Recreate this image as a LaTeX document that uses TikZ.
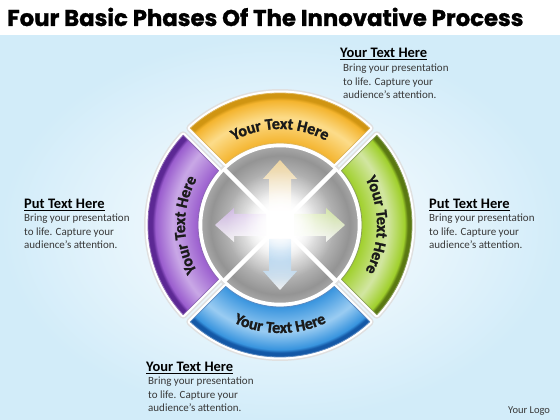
\documentclass[tikz,border=0pt]{standalone}
\usepackage{fontspec}
\setmainfont{Carlito}
\newfontfamily\titlefont{Poppins}[BoldFeatures={FakeBold=1.2}]
\newfontfamily\segfam{Carlito}[BoldFeatures={FakeBold=1.4}]
\usetikzlibrary{fadings}
\definecolor{bgblue}{HTML}{D2ECF9}
\definecolor{Ydark}{HTML}{D09512}
\definecolor{Ymain}{HTML}{F4B42E}
\definecolor{Ylight}{HTML}{FCDC8A}
\definecolor{Gdark}{HTML}{5A7812}
\definecolor{Gmain}{HTML}{A0D02C}
\definecolor{Glight}{HTML}{D2E6A2}
\definecolor{Bdark}{HTML}{1458A6}
\definecolor{Bmain}{HTML}{3894DE}
\definecolor{Blight}{HTML}{9ACCF2}
\definecolor{Pdark}{HTML}{5C2894}
\definecolor{Pmain}{HTML}{9A5DCE}
\definecolor{Plight}{HTML}{C9A8E6}
\definecolor{bodytext}{HTML}{383838}
\definecolor{segink}{HTML}{1A1A1A}
\pgfdeclareradialshading{segY}{\pgfpointorigin}{color(0bp)=(Ymain); color(15.5bp)=(Ymain); color(20.3bp)=(Ylight); color(23.6bp)=(Ymain); color(24.2bp)=(Ydark); color(25bp)=(Ydark); color(50bp)=(Ydark)}
\pgfdeclareradialshading{segG}{\pgfpointorigin}{color(0bp)=(Gmain); color(15.5bp)=(Gmain); color(20.3bp)=(Glight); color(23.6bp)=(Gmain); color(24.2bp)=(Gdark); color(25bp)=(Gdark); color(50bp)=(Gdark)}
\pgfdeclareradialshading{segB}{\pgfpointorigin}{color(0bp)=(Bmain); color(15.5bp)=(Bmain); color(20.3bp)=(Blight); color(23.6bp)=(Bmain); color(24.2bp)=(Bdark); color(25bp)=(Bdark); color(50bp)=(Bdark)}
\pgfdeclareradialshading{segP}{\pgfpointorigin}{color(0bp)=(Pmain); color(15.5bp)=(Pmain); color(20.3bp)=(Plight); color(23.6bp)=(Pmain); color(24.2bp)=(Pdark); color(25bp)=(Pdark); color(50bp)=(Pdark)}
\pgfdeclareradialshading{greydisc}{\pgfpointorigin}{color(0bp)=(white); color(6bp)=(white); color(12bp)=(black!20); color(22bp)=(black!42); color(25bp)=(black!34); color(50bp)=(black!34)}
\tikzfading[name=glowfade, inner color=transparent!0, outer color=transparent!100]
\newcommand\segtext{\segfam\bfseries\fontsize{16}{16}\selectfont}
\newcommand\segshape{(47.17:132) arc[start angle=47.17, end angle=132.83, radius=132] -- (131.5:82) arc[start angle=131.5, end angle=48.5, radius=82] -- cycle}
\newcommand\arrowshape{(-11,14) -- (-11,46) -- (-17,46) -- (0,65) -- (17,46) -- (11,46) -- (11,14) -- cycle}
\newlength\lblw
\makeatletter
\AtBeginDocument{%
  \settowidth{\lblw}{\segtext Your Text Here}%
  \xdef\lblW{\strip@pt\lblw}%
  \foreach \ch/\pre [count=\i] in {Y/Y, o/Yo, u/You, r/Your, T/Your T, e/Your Te, x/Your Tex, t/Your Text, H/Your Text H, e/Your Text He, r/Your Text Her, e/Your Text Here}{%
    \settowidth{\lblw}{\segtext \pre}\xdef\lblwp{\strip@pt\lblw}%
    \settowidth{\lblw}{\segtext \ch}\xdef\lblwc{\strip@pt\lblw}%
    \pgfmathsetmacro\lbls{\lblwp-\lblwc/2-\lblW/2}%
    \expandafter\xdef\csname lbls\i\endcsname{\lbls}%
  }}
\makeatother
% #1 centre angle, #2 baseline radius, #3 direction (1 clockwise, -1 counter-clockwise), #4 name prefix
\newcommand\arclabel[4]{%
  \foreach \ch [count=\i] in {Y,o,u,r,T,e,x,t,H,e,r,e}{%
    \pgfmathsetmacro\lblang{#1-(#3)*\csname lbls\i\endcsname/#2*180/pi}%
    \pgfmathsetmacro\lblrot{\lblang-(#3)*90}%
    \node[font=\segtext, text=segink, anchor=base, inner sep=0pt, rotate=\lblrot] (#4\i) at ([shift={(\lblang:#2)}]C) {\ch};
  }}
\tikzset{
  head/.style={anchor=base west, inner sep=0pt, font=\bfseries\fontsize{14.5}{14.5}\selectfont},
  body/.style={anchor=base west, inner sep=0pt, text=bodytext, font=\fontsize{11}{13.5}\selectfont}
}
\begin{document}
\begin{tikzpicture}[x=1pt,y=1pt]
\useasboundingbox (0,0) rectangle (560,420);
\fill[white] (0,0) rectangle (560,420);
\shade[inner color=white, outer color=bgblue] (0,0) rectangle (560,384);
\coordinate (C) at (280,195);
% title
\node[anchor=base west, inner sep=0pt, font=\titlefont\bfseries\fontsize{22.8}{22.8}\selectfont] (title) at (7,394) {Four Basic Phases Of The Innovative Process};
\begin{scope}[shift={(C)}]
  % shadows
  \foreach \rot in {0,90,180,270}{
    \begin{scope}[rotate=\rot]
      \draw[black!12, line width=8, line join=round] \segshape;
    \end{scope}}
  \draw[black!12, line width=7] (0,0) circle (79);
  % grey disc
  \shade[shading=greydisc] (0,0) circle (79);
  \draw[white, line width=2.5] (0,0) circle (79);
  % arrows
  \foreach \rot/\col in {0/Ymain!45!white, -90/Gmain!45!white, 180/Bmain!85!white, 90/Pmain!45!white}{
    \begin{scope}[rotate=\rot]
      \shade[top color=\col, bottom color=white, opacity=0.85] \arrowshape;
    \end{scope}}
  % X gaps
  \draw[white, line width=4.5] (45:80) -- (225:80);
  \draw[white, line width=4.5] (135:80) -- (315:80);
  % glow
  \fill[white, path fading=glowfade] (0,0) circle (54);
  \fill[white, path fading=glowfade] (0,0) circle (36);
  \fill[white, path fading=glowfade] (0,0) circle (26);
  % white outlines
  \foreach \rot in {0,90,180,270}{
    \begin{scope}[rotate=\rot]
      \draw[white, line width=5, line join=round] \segshape;
    \end{scope}}
  % segments
  \foreach \rot/\sh/\dk in {0/segY/Ydark, -90/segG/Gdark, 180/segB/Bdark, 90/segP/Pdark}{
    \begin{scope}[rotate=\rot]
      \begin{scope}
        \clip \segshape;
        \shade[shading=\sh] (0,0) circle (132);
      \end{scope}
      \draw[\dk!70!white, line width=0.8, line join=round] \segshape;
    \end{scope}}
\end{scope}
% curved labels
\arclabel{90}{96}{1}{top}
\arclabel{0}{97}{1}{right}
\arclabel{270}{108}{-1}{bottom}
\arclabel{180}{95}{1}{left}
% text blocks
\node[head] (h1) at (340,362) {\underline{Your Text Here}};
\node[body] (b1) at (343,348) {\begin{tabular}[t]{@{}l@{}}Bring your presentation\\to life. Capture your\\audience’s attention.\end{tabular}};
\node[head] (h2) at (24,211) {\underline{Put Text Here}};
\node[body] (b2) at (24,198) {\begin{tabular}[t]{@{}l@{}}Bring your presentation\\to life. Capture your\\audience’s attention.\end{tabular}};
\node[head] (h3) at (429,211) {\underline{Put Text Here}};
\node[body] (b3) at (429,198) {\begin{tabular}[t]{@{}l@{}}Bring your presentation\\to life. Capture your\\audience’s attention.\end{tabular}};
\node[head] (h4) at (146,48) {\underline{Your Text Here}};
\node[body] (b4) at (148,35) {\begin{tabular}[t]{@{}l@{}}Bring your presentation\\to life. Capture your\\audience’s attention.\end{tabular}};
\node[anchor=base west, inner sep=0pt, text=bodytext, font=\fontsize{10.5}{12}\selectfont] (logo) at (508,6) {Your Logo};
\end{tikzpicture}
\end{document}
